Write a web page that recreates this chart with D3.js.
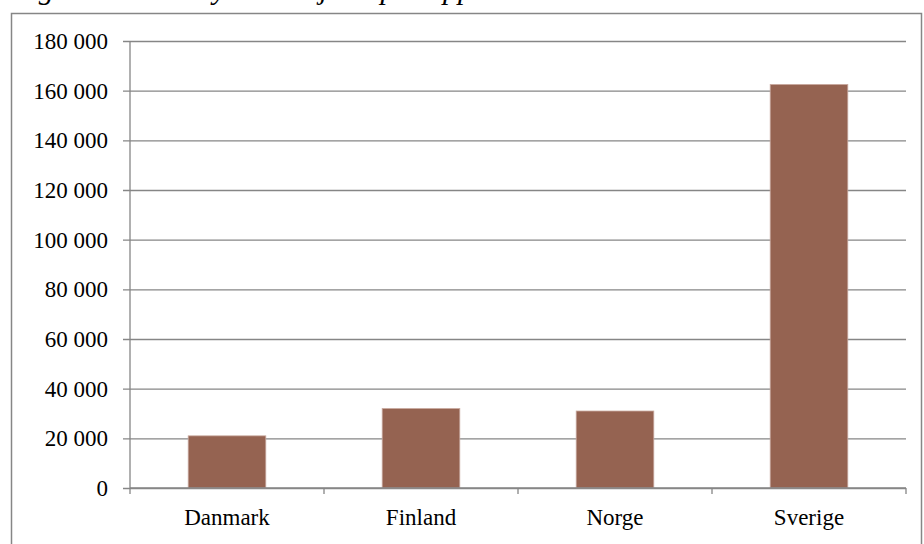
<!DOCTYPE html>
<html>
<head>
<meta charset="utf-8">
<script src="https://cdn.jsdelivr.net/npm/d3@7"></script>
<style>
  body { margin: 0; background: #fff; }
  svg text { font-family: "Liberation Serif", "DejaVu Serif", serif; }
</style>
</head>
<body>
<svg id="chart" width="924" height="544"></svg>
<script>
const countries = ['Danmark', 'Finland', 'Norge', 'Sverige'];
const values = [21000, 32000, 31000, 162500];
const yTicks = [0, 20000, 40000, 60000, 80000, 100000, 120000, 140000, 160000, 180000];
const title = 'Figur 3. Antall nye unike jobb per oppdatert';

const width = 924, height = 544;
const margin = { top: 41, right: 18, bottom: 56, left: 130 };
const svg = d3.select('#chart');

// title sits above the top edge, only descenders peek in
svg.append('text')
  .attr('x', 12)
  .attr('y', -1)
  .attr('font-size', 30)
  .attr('font-style', 'italic')
  .attr('fill', '#000')
  .text(title);

// outer frame
svg.append('rect')
  .attr('x', 11.5).attr('y', 13.5)
  .attr('width', 910).attr('height', 545)
  .attr('fill', 'none')
  .attr('stroke', '#868686')
  .attr('stroke-width', 1.5);

const x = d3.scaleBand()
  .domain(countries)
  .range([margin.left, width - margin.right])
  .paddingInner(0.6)
  .paddingOuter(0.3);

const y = d3.scaleLinear()
  .domain([0, 180000])
  .range([height - margin.bottom, margin.top]);

const fmt = v => d3.format(',')(v).replace(/,/g, ' ');

// gridlines + y labels
const yAxis = d3.axisLeft(y)
  .tickValues(yTicks)
  .tickSize(-(width - margin.right - margin.left))
  .tickSizeOuter(0)
  .tickPadding(22)
  .tickFormat(fmt);

const gy = svg.append('g')
  .attr('transform', `translate(${margin.left},0)`)
  .call(yAxis);
gy.select('.domain').remove();
gy.selectAll('.tick line')
  .attr('x1', -7)
  .attr('stroke', '#868686')
  .attr('stroke-width', 1.3);
gy.selectAll('.tick text')
  .attr('font-size', 23)
  .attr('fill', '#000');

// bars
svg.append('g')
  .selectAll('rect')
  .data(values)
  .join('rect')
  .attr('x', (d, i) => x(countries[i]))
  .attr('y', d => y(d))
  .attr('width', x.bandwidth())
  .attr('height', d => y(0) - y(d))
  .attr('fill', '#956351')
  .attr('stroke', '#c9a99e')
  .attr('stroke-width', 0.8);

// y axis line
svg.append('line')
  .attr('x1', margin.left).attr('x2', margin.left)
  .attr('y1', y(180000)).attr('y2', y(0))
  .attr('stroke', '#868686')
  .attr('stroke-width', 1.3);

// x axis with category separators
const plotW = width - margin.left - margin.right;
const gx = svg.append('g')
  .attr('transform', `translate(0,${y(0)})`);
gx.append('line')
  .attr('x1', margin.left).attr('x2', width - margin.right)
  .attr('stroke', '#868686')
  .attr('stroke-width', 1.3);
gx.selectAll('line.sep')
  .data(d3.range(countries.length + 1))
  .join('line')
  .attr('class', 'sep')
  .attr('x1', i => margin.left + i * plotW / countries.length)
  .attr('x2', i => margin.left + i * plotW / countries.length)
  .attr('y1', 0).attr('y2', 6)
  .attr('stroke', '#868686')
  .attr('stroke-width', 1.3);
gx.selectAll('text')
  .data(countries)
  .join('text')
  .attr('x', d => x(d) + x.bandwidth() / 2)
  .attr('y', 37)
  .attr('text-anchor', 'middle')
  .attr('font-size', 23)
  .attr('fill', '#000')
  .text(d => d);
</script>
</body>
</html>
